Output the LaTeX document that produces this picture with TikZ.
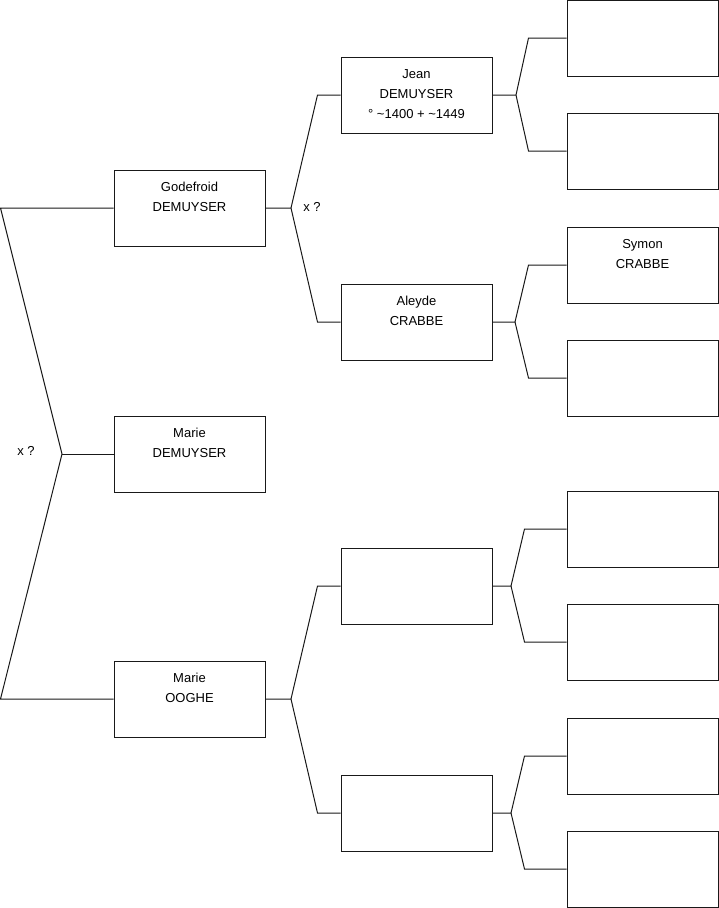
\documentclass[tikz,border=0pt]{standalone}
\usepackage{fontspec}
\setmainfont{Liberation Sans}
\usetikzlibrary{positioning}

\begin{document}
\begin{tikzpicture}[
    x=1pt, y=-1pt,
    pbox/.style={rectangle, draw=black!90, line width=1pt, minimum width=151pt,
      minimum height=76pt, inner sep=0pt},
    ptext/.style={anchor=north, align=center, inner sep=0pt, yshift=-12.5pt,
      font=\fontsize{13}{20}\selectfont},
    link/.style={draw=black!90, line width=1pt},
    mrg/.style={font=\fontsize{13}{16}\selectfont, inner sep=0pt},
    label distance=0pt
  ]
  \useasboundingbox (0,0) rectangle (719,908);
  % generation 1
  \node[pbox, label={[ptext]north:Godefroid\\DEMUYSER}] (god) at (189.5,208) {};
  \node[pbox, label={[ptext]north:Marie\\DEMUYSER}] (mdem) at (189.5,454) {};
  \node[pbox, label={[ptext]north:Marie\\OOGHE}] (mooghe) at (189.5,699) {};
  % generation 2
  \node[pbox, label={[ptext]north:Jean\\DEMUYSER\\° \textasciitilde1400 + \textasciitilde1449}] (jean) at (416.5,95) {};
  \node[pbox, label={[ptext]north:Aleyde\\CRABBE}] (aleyde) at (416.5,322) {};
  \node[pbox] (ooa) at (416.5,586) {};
  \node[pbox] (oob) at (416.5,813) {};
  % generation 3
  \node[pbox] (p1) at (642.5,38) {};
  \node[pbox] (p2) at (642.5,151) {};
  \node[pbox, label={[ptext]north:Symon\\CRABBE}] (symon) at (642.5,265) {};
  \node[pbox] (p4) at (642.5,378) {};
  \node[pbox] (p5) at (642.5,529) {};
  \node[pbox] (p6) at (642.5,642) {};
  \node[pbox] (p7) at (642.5,756) {};
  \node[pbox] (p8) at (642.5,869) {};

  % forks
  \coordinate (mdemF) at (62,454);
  \draw[link] (god.west) -- ([xshift=-113pt]god.west) -- (mdemF)
    -- ([xshift=-113pt]mooghe.west) -- (mooghe.west);
  \draw[link] (mdemF) -- (mdem.west);
  \node[mrg] (mx) at (26,451) {x ?};

  \coordinate (godF) at (291,208);
  \draw[link] (god.east) -- (godF) -- ([xshift=-23pt]jean.west) -- (jean.west);
  \draw[link] (godF) -- ([xshift=-23pt]aleyde.west) -- (aleyde.west);
  \node[mrg] (gx) at (312,207) {x ?};

  \coordinate (jeanF) at (516,95);
  \draw[link] (jean.east) -- (jeanF) -- ([xshift=-38pt]p1.west) -- (p1.west);
  \draw[link] (jeanF) -- ([xshift=-38pt]p2.west) -- (p2.west);

  \coordinate (aleydeF) at (515,322);
  \draw[link] (aleyde.east) -- (aleydeF) -- ([xshift=-38pt]symon.west) -- (symon.west);
  \draw[link] (aleydeF) -- ([xshift=-38pt]p4.west) -- (p4.west);

  \coordinate (moogheF) at (291,699);
  \draw[link] (mooghe.east) -- (moogheF) -- ([xshift=-23pt]ooa.west) -- (ooa.west);
  \draw[link] (moogheF) -- ([xshift=-23pt]oob.west) -- (oob.west);

  \coordinate (ooaF) at (511,586);
  \draw[link] (ooa.east) -- (ooaF) -- ([xshift=-42pt]p5.west) -- (p5.west);
  \draw[link] (ooaF) -- ([xshift=-42pt]p6.west) -- (p6.west);

  \coordinate (oobF) at (511,813);
  \draw[link] (oob.east) -- (oobF) -- ([xshift=-42pt]p7.west) -- (p7.west);
  \draw[link] (oobF) -- ([xshift=-42pt]p8.west) -- (p8.west);
\end{tikzpicture}
\end{document}
